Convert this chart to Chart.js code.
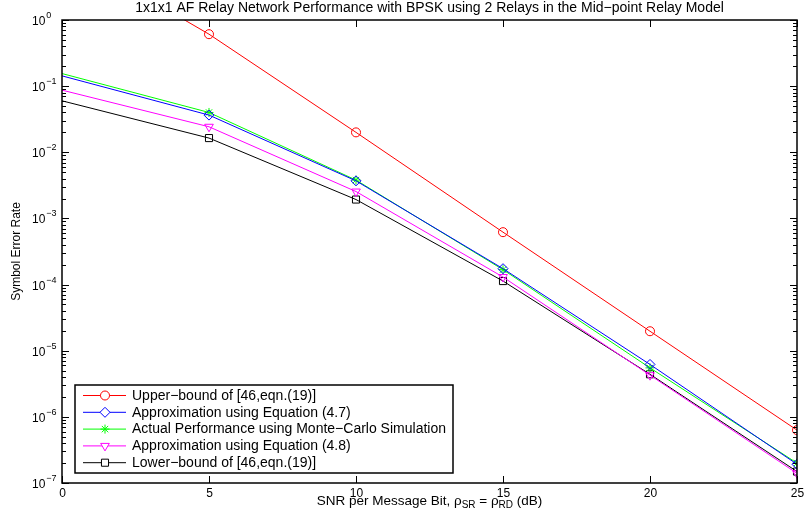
<!DOCTYPE html>
<html>
<head>
<meta charset="utf-8">
<title>1x1x1 AF Relay Network Performance</title>
<script src="https://cdn.jsdelivr.net/npm/chart.js@4/dist/chart.umd.min.js"></script>
<style>
  html, body { margin: 0; padding: 0; background: #fff; }
  #wrap { width: 805px; height: 522px; position: relative; }
</style>
</head>
<body>
<div id="wrap"><canvas id="serChart"></canvas></div>
<script>
// SNR points (dB) and symbol error rates per curve
const snrDb = [0, 5, 10, 15, 20, 25];
const upperBound = [12, 0.61, 0.02, 6.2e-4, 1.97e-5, 6.3e-7];
const approxEq47 = [0.143, 0.0365, 3.7e-3, 1.74e-4, 6.2e-6, 1.92e-7];
const monteCarlo = [0.155, 0.04, 3.8e-3, 1.68e-4, 5.5e-6, 2.0e-7];
const approxEq48 = [0.087, 0.0243, 2.55e-3, 1.3e-4, 4.27e-6, 1.4e-7];
const lowerBound = [0.06, 0.0164, 1.93e-3, 1.13e-4, 4.4e-6, 1.49e-7];

const seriesNames = [
    "Upper\u2212bound of [46,eqn.(19)]",
    "Approximation using Equation (4.7)",
    "Actual Performance using Monte\u2212Carlo Simulation",
    "Approximation using Equation (4.8)",
    "Lower\u2212bound of [46,eqn.(19)]"
];

const xTicks = [0, 5, 10, 15, 20, 25];
const yTickExponents = [0, -1, -2, -3, -4, -5, -6, -7];

const chartTitle = "1x1x1 AF Relay Network Performance with BPSK using 2 Relays in the Mid\u2212point Relay Model";
const yTitle = "Symbol Error Rate";

const FONT = "'Liberation Sans', Arial, Helvetica, sans-serif";

function serie(label, data, color, style, radius, rotation) {
    return {
        label,
        data: data.map((v, i) => ({ x: snrDb[i], y: v })),
        borderColor: color,
        borderWidth: 1,
        backgroundColor: "rgba(0,0,0,0)",
        pointStyle: style,
        legendRadius: radius,
        // no marker on the first (0 dB) point
        pointRadius: data.map((v, i) => (i === 0 ? 0 : radius)),
        pointRotation: rotation || 0,
        pointBorderColor: color,
        pointBackgroundColor: "rgba(0,0,0,0)",
        pointBorderWidth: 1,
        tension: 0,
        fill: false
    };
}

// axes box, inward ticks, tick labels, titles and legend drawn in MATLAB style
const matlabFrame = {
    id: "matlabFrame",
    afterDatasetsDraw(chart) {
        const { ctx, chartArea: a } = chart;
        const xs = chart.scales.x;
        const ys = chart.scales.y;

        const seg = (x1, y1, x2, y2) => {
            ctx.beginPath();
            ctx.moveTo(x1, y1);
            ctx.lineTo(x2, y2);
            ctx.stroke();
        };

        ctx.save();
        ctx.strokeStyle = "#000";
        ctx.fillStyle = "#000";

        // x ticks
        ctx.lineWidth = 1;
        ctx.font = "12px " + FONT;
        ctx.textAlign = "center";
        ctx.textBaseline = "middle";
        xTicks.forEach(v => {
            const px = Math.round(xs.getPixelForValue(v)) + 0.5;
            seg(px, a.bottom, px, a.bottom - 7);
            seg(px, a.top, px, a.top + 7);
            ctx.fillText(String(v), px, a.bottom + 11);
        });

        // y ticks, major and minor
        yTickExponents.forEach(e => {
            const py = Math.round(ys.getPixelForValue(Math.pow(10, e))) + 0.5;
            seg(a.left, py, a.left + 7, py);
            seg(a.right, py, a.right - 7, py);

            ctx.textAlign = "left";
            ctx.font = "12px " + FONT;
            ctx.fillText("10", 32, py + 1);
            const w = ctx.measureText("10").width;
            ctx.font = "9px " + FONT;
            ctx.fillText(e === 0 ? "0" : "\u2212" + Math.abs(e), 32 + w + 1, py - 5);

            if (e > -7) {
                for (let m = 2; m <= 9; m++) {
                    const v = m * Math.pow(10, e - 1);
                    const my = Math.round(ys.getPixelForValue(v)) + 0.5;
                    seg(a.left, my, a.left + 4, my);
                    seg(a.right, my, a.right - 4, my);
                }
            }
        });

        // box
        ctx.lineWidth = 1.5;
        ctx.strokeRect(a.left, a.top, a.right - a.left, a.bottom - a.top);

        // title
        ctx.font = "14px " + FONT;
        ctx.textAlign = "center";
        ctx.textBaseline = "middle";
        ctx.fillText(chartTitle, (a.left + a.right) / 2, 8);

        // y title
        ctx.font = "12px " + FONT;
        ctx.save();
        ctx.translate(17, (a.top + a.bottom) / 2);
        ctx.rotate(-Math.PI / 2);
        ctx.fillText(yTitle, 0, 0);
        ctx.restore();

        // x title with subscripts
        const parts = [
            { t: "SNR per Message Bit, \u03c1", sub: false },
            { t: "SR", sub: true },
            { t: " = \u03c1", sub: false },
            { t: "RD", sub: true },
            { t: " (dB)", sub: false }
        ];
        const fontOf = p => (p.sub ? "10px " : "13.5px ") + FONT;
        let total = 0;
        parts.forEach(p => {
            ctx.font = fontOf(p);
            p.w = ctx.measureText(p.t).width;
            total += p.w;
        });
        let tx = (a.left + a.right) / 2 - total / 2;
        ctx.textAlign = "left";
        ctx.textBaseline = "alphabetic";
        parts.forEach(p => {
            ctx.font = fontOf(p);
            ctx.fillText(p.t, tx, p.sub ? 508 : 505);
            tx += p.w;
        });

        // legend
        const lx = 75, ly = 385, lw = 378, lh = 88;
        ctx.fillStyle = "#fff";
        ctx.fillRect(lx, ly, lw, lh);
        ctx.lineWidth = 1.5;
        ctx.strokeStyle = "#000";
        ctx.strokeRect(lx, ly, lw, lh);

        ctx.font = "14px " + FONT;
        ctx.textBaseline = "middle";
        chart.data.datasets.forEach((ds, i) => {
            const ry = ly + 10.5 + i * 16.8;
            ctx.strokeStyle = ds.borderColor;
            ctx.lineWidth = 1;
            seg(83, ry, 126, ry);
            ctx.fillStyle = "#fff";
            Chart.helpers.drawPoint(ctx, {
                pointStyle: ds.pointStyle,
                radius: ds.legendRadius,
                rotation: ds.pointRotation,
                borderWidth: 1
            }, 105, ry);
            ctx.fillStyle = "#000";
            ctx.fillText(ds.label, 132, ry + 0.5);
        });

        ctx.restore();
    }
};

new Chart(document.getElementById("serChart"), {
    type: "line",
    data: {
        datasets: [
            serie(seriesNames[0], upperBound, "#ff0000", "circle", 4.5),
            serie(seriesNames[1], approxEq47, "#0000ff", "rectRot", 5),
            serie(seriesNames[2], monteCarlo, "#00ff00", "star", 4.5),
            serie(seriesNames[3], approxEq48, "#ff00ff", "triangle", 5, 180),
            serie(seriesNames[4], lowerBound, "#000000", "rect", 5)
        ]
    },
    options: {
        responsive: true,
        maintainAspectRatio: false,
        animation: false,
        layout: {
            padding: { left: 62, top: 20, right: 8, bottom: 39 }
        },
        plugins: {
            legend: { display: false },
            tooltip: { enabled: false },
            title: { display: false }
        },
        scales: {
            x: {
                type: "linear",
                min: 0,
                max: 25,
                display: false
            },
            y: {
                type: "logarithmic",
                min: 1e-7,
                max: 1,
                display: false
            }
        }
    },
    plugins: [matlabFrame]
});
</script>
</body>
</html>
